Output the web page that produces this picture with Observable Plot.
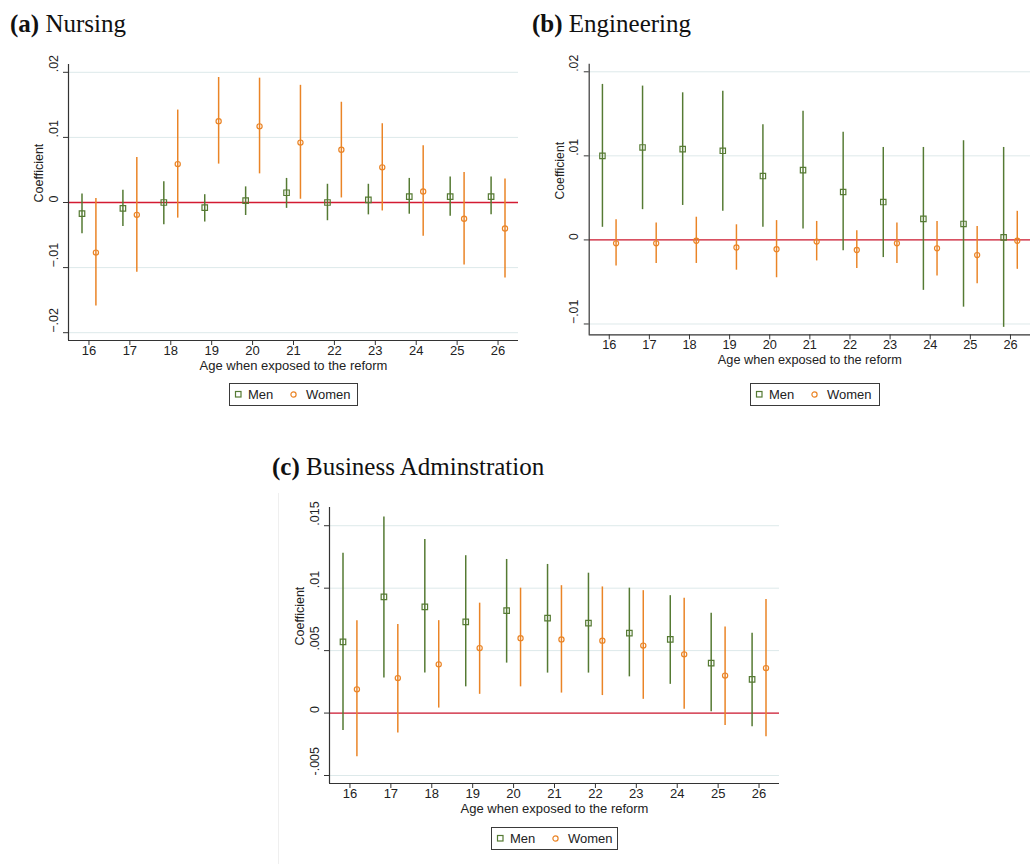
<!DOCTYPE html>
<html>
<head>
<meta charset="utf-8">
<script src="https://cdn.jsdelivr.net/npm/d3@7"></script>
<script src="https://cdn.jsdelivr.net/npm/@observablehq/plot@0.6"></script>
<style>
  body { margin: 0; width: 1032px; height: 864px; overflow: hidden; background: #fff; position: relative;
         font-family: "Liberation Sans", Arial, sans-serif; }
  .title { position: absolute; font-family: "Liberation Serif", "Times New Roman", serif; font-size: 25px;
           line-height: 25px; color: #111; white-space: nowrap; }
  .title b { font-weight: bold; }
  .panel { position: absolute; }
  .legend { position: absolute; height: 23px; box-sizing: border-box; border: 1px solid #3a3a3a;
            font-size: 13px; color: #222; }
  .legend > * { position: absolute; }
  .legend span { top: 0; line-height: 21px; }
  .legend svg { top: 6px; }
  .edge { position: absolute; left: 278px; top: 493px; width: 1px; height: 371px; background: #efefef; }
</style>
</head>
<body>
<div class="title" style="left:10px; top:11px"><b>(a)</b> Nursing</div>
<div class="title" style="left:532px; top:11px"><b>(b)</b> Engineering</div>
<div class="title" style="left:272px; top:454px"><b>(c)</b> Business Adminstration</div>
<div class="edge"></div>

<script>
// Age at which each cohort was exposed to the reform
const ages = [16, 17, 18, 19, 20, 21, 22, 23, 24, 25, 26];

// Estimates per age: [coefficient, lower CI, upper CI]
const nursingMen = [
  [-0.0017, -0.0048, 0.0013], [-0.0009, -0.0037, 0.0019], [0.0000, -0.0034, 0.0032],
  [-0.0008, -0.0030, 0.0012], [0.0003, -0.0020, 0.0024], [0.0015, -0.0009, 0.0037],
  [0.0000, -0.0028, 0.0028], [0.0004, -0.0019, 0.0028], [0.0009, -0.0018, 0.0037],
  [0.0009, -0.0021, 0.0039], [0.0009, -0.0019, 0.0039]
];
const nursingWomen = [
  [-0.0077, -0.0159, 0.0006], [-0.0019, -0.0107, 0.0069], [0.0059, -0.0024, 0.0142],
  [0.0125, 0.0059, 0.0192], [0.0117, 0.0044, 0.0191], [0.0092, 0.0005, 0.0180],
  [0.0081, 0.0007, 0.0154], [0.0054, -0.0013, 0.0121], [0.0017, -0.0052, 0.0087],
  [-0.0025, -0.0096, 0.0046], [-0.0040, -0.0116, 0.0036]
];
const engineeringMen = [
  [0.0100, 0.0015, 0.0185], [0.0110, 0.0036, 0.0183], [0.0108, 0.0041, 0.0175],
  [0.0106, 0.0034, 0.0177], [0.0076, 0.0015, 0.0137], [0.0083, 0.0013, 0.0153],
  [0.0057, -0.0013, 0.0128], [0.0045, -0.0021, 0.0110], [0.0025, -0.0060, 0.0110],
  [0.0019, -0.0080, 0.0118], [0.0003, -0.0104, 0.0110]
];
const engineeringWomen = [
  [-0.0004, -0.0031, 0.0024], [-0.0004, -0.0028, 0.0020], [-0.0001, -0.0028, 0.0027],
  [-0.0009, -0.0036, 0.0018], [-0.0011, -0.0045, 0.0023], [-0.0002, -0.0025, 0.0022],
  [-0.0012, -0.0034, 0.0011], [-0.0004, -0.0028, 0.0020], [-0.0010, -0.0043, 0.0022],
  [-0.0018, -0.0052, 0.0016], [-0.0001, -0.0035, 0.0034]
];
const businessMen = [
  [0.0057, -0.0014, 0.0128], [0.0093, 0.0028, 0.0157], [0.0085, 0.0032, 0.0139],
  [0.0073, 0.0021, 0.0126], [0.0082, 0.0040, 0.0123], [0.0076, 0.0032, 0.0119],
  [0.0072, 0.0032, 0.0112], [0.0064, 0.0029, 0.0100], [0.0059, 0.0023, 0.0094],
  [0.0040, 0.0001, 0.0080], [0.0027, -0.0011, 0.0064]
];
const businessWomen = [
  [0.0019, -0.0035, 0.0074], [0.0028, -0.0016, 0.0071], [0.0039, 0.0004, 0.0074],
  [0.0052, 0.0015, 0.0088], [0.0060, 0.0021, 0.0100], [0.0059, 0.0016, 0.0102],
  [0.0058, 0.0014, 0.0101], [0.0054, 0.0011, 0.0098], [0.0047, 0.0003, 0.0092],
  [0.0030, -0.0010, 0.0069], [0.0036, -0.0019, 0.0091]
];

// Y-axis ticks and their labels, one set per panel
const nursingTicks = [-0.02, -0.01, 0, 0.01, 0.02];
const nursingLabels = ["\u2212.02", "\u2212.01", "0", ".01", ".02"];
const engineeringTicks = [-0.01, 0, 0.01, 0.02];
const engineeringLabels = ["\u2212.01", "0", ".01", ".02"];
const businessTicks = [-0.005, 0, 0.005, 0.01, 0.015];
const businessLabels = ["-.005", "0", ".005", ".01", ".015"];

const seriesNames = ["Men", "Women"];
const menColor = "#557a33";
const womenColor = "#ea8426";
const zeroColor = "#d31b32";
const axisColor = "#333";
const offset = 0.17;

function rows(values) {
  return ages.map((age, i) => ({ age, coef: values[i][0], lo: values[i][1], hi: values[i][2] }));
}

function panel({ men, women, yDomain, yTicks, yLabels, height }) {
  const m = rows(men), w = rows(women);
  return Plot.plot({
    width: 520, height,
    marginLeft: 68, marginRight: 2, marginTop: 14, marginBottom: height - 14 - 276,
    x: { domain: [15.5, 26.5], axis: null },
    y: { domain: yDomain, axis: null },
    style: { fontFamily: "'Liberation Sans', Arial, sans-serif", color: "#222", background: "transparent", overflow: "visible" },
    marks: [
      Plot.gridY(yTicks, { stroke: "#dde9ea", strokeOpacity: 1 }),
      Plot.ruleY([0], { stroke: zeroColor, strokeWidth: 1.3 }),
      Plot.ruleX(m, { x: d => d.age - offset, y1: "lo", y2: "hi", stroke: menColor, strokeWidth: 1.5 }),
      Plot.ruleX(w, { x: d => d.age + offset, y1: "lo", y2: "hi", stroke: womenColor, strokeWidth: 1.5 }),
      Plot.dot(m, { x: d => d.age - offset, y: "coef", symbol: "square", r: 3.1, stroke: menColor, strokeWidth: 1.2, fill: "none" }),
      Plot.dot(w, { x: d => d.age + offset, y: "coef", symbol: "circle", r: 2.6, stroke: womenColor, strokeWidth: 1.2, fill: "none" }),
      Plot.ruleX([15.5], { stroke: axisColor, strokeWidth: 1.2 }),
      Plot.ruleY([yDomain[0]], { stroke: axisColor, strokeWidth: 1.2 }),
      Plot.axisX({ ticks: ages, tickSize: 5, tickPadding: 0, fontSize: 13, label: null, stroke: axisColor }),
      Plot.axisY({ ticks: yTicks, tickSize: 5, tickFormat: () => "", label: null, stroke: axisColor }),
      Plot.text(yTicks, { y: d => d, text: (d, i) => yLabels[i], frameAnchor: "left", dx: -15, rotate: -90, fontSize: 12.5, fill: "#222" }),
      Plot.text(["Coefficient"], { frameAnchor: "left", dx: -30, rotate: -90, fontSize: 12.5, fill: "#222" }),
      Plot.text(["Age when exposed to the reform"], { frameAnchor: "bottom", dy: 29.5, fontSize: 13, fill: "#222" })
    ]
  });
}

function place(node, left, top) {
  const div = document.createElement("div");
  div.className = "panel";
  div.style.left = left + "px";
  div.style.top = top + "px";
  div.appendChild(node);
  document.body.appendChild(div);
}

function legend(left, top, width) {
  const box = document.createElement("div");
  box.className = "legend";
  box.style.left = left + "px";
  box.style.top = top + "px";
  box.style.width = width + "px";
  box.innerHTML =
    `<svg width="9" height="9" style="left:4px"><rect x="1.5" y="1.5" width="5.5" height="5.5" fill="none" stroke="${menColor}" stroke-width="1.2"/></svg>` +
    `<span style="left:18px">${seriesNames[0]}</span>` +
    `<svg width="9" height="9" style="left:59px"><circle cx="4.5" cy="4.5" r="2.6" fill="none" stroke="${womenColor}" stroke-width="1.2"/></svg>` +
    `<span style="left:76px">${seriesNames[1]}</span>`;
  document.body.appendChild(box);
}

place(panel({ men: nursingMen, women: nursingWomen, yDomain: [-0.0212, 0.0212],
              yTicks: nursingTicks, yLabels: nursingLabels, height: 330 }), 0, 50);
place(panel({ men: engineeringMen, women: engineeringWomen, yDomain: [-0.0113, 0.0209],
              yTicks: engineeringTicks, yLabels: engineeringLabels, height: 330 }), 522, 50);
place(panel({ men: businessMen, women: businessWomen, yDomain: [-0.00564, 0.01646],
              yTicks: businessTicks, yLabels: businessLabels, height: 331 }), 261, 493);

legend(229, 383, 129);
legend(750, 383, 130);
legend(491, 827, 127);
</script>
</body>
</html>
